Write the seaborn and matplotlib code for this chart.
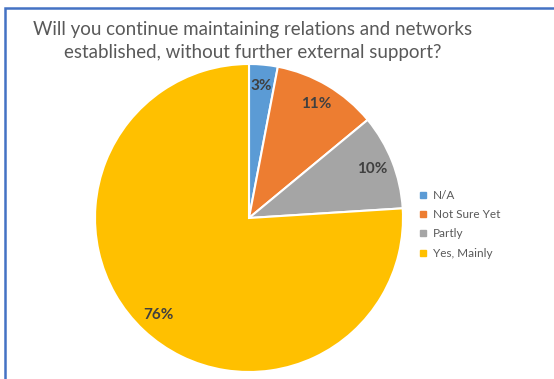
import matplotlib
matplotlib.use("Agg")
import matplotlib.pyplot as plt
from matplotlib.lines import Line2D
from matplotlib.patches import Rectangle
import seaborn as sns

categories = ["N/A", "Not Sure Yet", "Partly", "Yes, Mainly"]
shares = [3, 11, 10, 76]
colors = ["#5B9BD5", "#ED7D31", "#A5A5A5", "#FFC000"]
title = "Will you continue maintaining relations and networks\nestablished, without further external support?"

sns.set_theme(style="white")
plt.rcParams["font.family"] = ["Lato", "DejaVu Sans"]
palette = sns.color_palette(colors)

W, H = 554, 379
fig = plt.figure(figsize=(W / 100, H / 100), dpi=100)
fig.patch.set_facecolor("white")

# chart frame (opens beyond the right and bottom edges)
fig.add_artist(Rectangle((5 / W, -0.05), 1.2, (H - 8) / H + 0.05,
                         transform=fig.transFigure, fill=False,
                         edgecolor="#4472C4", linewidth=1.8))

cx, cy, r = 249, 218, 154
ax = fig.add_axes([(cx - r) / W, (H - cy - r) / H, 2 * r / W, 2 * r / H])
wedges, texts, autotexts = ax.pie(
    shares, colors=palette, startangle=90, counterclock=False,
    autopct="%1.0f%%", pctdistance=0.86,
    wedgeprops=dict(edgecolor="white", linewidth=1.5),
    textprops=dict(color="#404040", fontsize=11, fontweight="bold"),
)
ax.set_aspect("equal")
ax.set_xlim(-1, 1)
ax.set_ylim(-1, 1)

fig.text(253 / W, 1 - 41 / H, title, ha="center", va="center",
         fontsize=13.5, color="#595959", linespacing=1.4)

handles = [Line2D([0], [0], marker="s", linestyle="none", markersize=4.5,
                  markerfacecolor=c, markeredgecolor=c) for c in colors]
fig.legend(handles, categories, loc="upper left",
           bbox_to_anchor=(414 / W, 1 - 184 / H), frameon=False,
           fontsize=8.5, labelcolor="#595959", handlelength=0.6,
           handletextpad=0.5, labelspacing=0.7, borderpad=0)

fig.savefig("out.png", dpi=100, facecolor="white")
